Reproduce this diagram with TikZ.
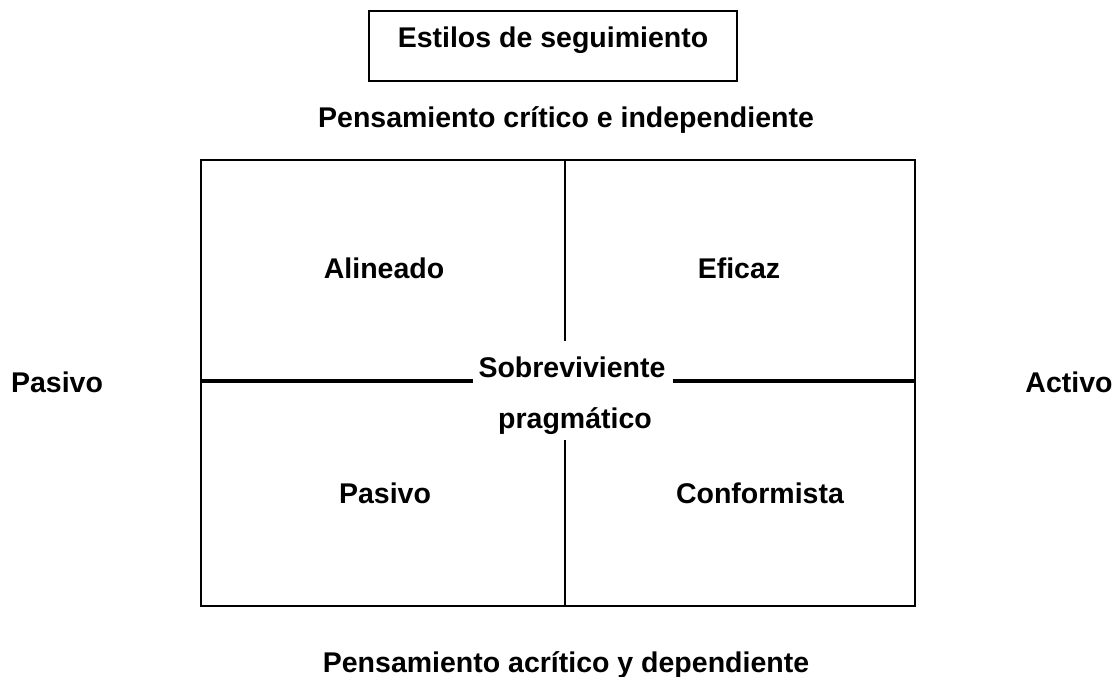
\documentclass[tikz,border=0pt]{standalone}
\usepackage{fontspec}
\setmainfont{Liberation Sans}
\usetikzlibrary{positioning}
\tikzset{
every node/.style={align=center, inner sep=0pt, font=\bfseries\fontsize{28.5}{34}\selectfont},
etiqueta/.style={anchor=base},
marco/.style={draw, line width=2pt},
eje/.style={line width=4pt},
divisor/.style={line width=2pt},
}

\begin{document}
\begin{tikzpicture}[x=1pt, y=-1pt]
\useasboundingbox (0,0) rectangle (1114,677);
% titulo
\node [marco, minimum width=368pt, minimum height=70pt, text height=0.72em, text depth=0.35em] (titulo) at (553,46) {Estilos de seguimiento};
\node [etiqueta] (critico) at (566,128) {Pensamiento cr\'itico e independiente};
\node [etiqueta] (acritico) at (566,672) {Pensamiento acr\'itico y dependiente};
% cuadrantes
\node [marco, minimum width=714pt, minimum height=446pt] (cuadro) at (558,383) {};
\node [etiqueta] (alineado) at (384,278) {Alineado};
\node [etiqueta] (eficaz) at (739,278) {Eficaz};
\node [etiqueta] (pasivo) at (385,503) {Pasivo};
\node [etiqueta] (conformista) at (760,503) {Conformista};
\node [etiqueta] (sobre) at (572,377) {Sobreviviente};
\node [etiqueta] (prag) at (575,428) {pragm\'atico};
\node [etiqueta] (izq) at (57,392) {Pasivo};
\node [etiqueta] (der) at (1069,392) {Activo};
% divisiones
\coordinate (vArriba) at (565,341);
\coordinate (vAbajo) at (565,440);
\coordinate (hIzq) at (473,381);
\coordinate (hDer) at (673,381);
\draw [divisor] (vArriba |- cuadro.north) -- (vArriba);
\draw [divisor] (vAbajo) -- (vAbajo |- cuadro.south);
\draw [eje] (cuadro.west |- hIzq) -- (hIzq);
\draw [eje] (hDer) -- (hDer -| cuadro.east);
\end{tikzpicture}
\end{document}
